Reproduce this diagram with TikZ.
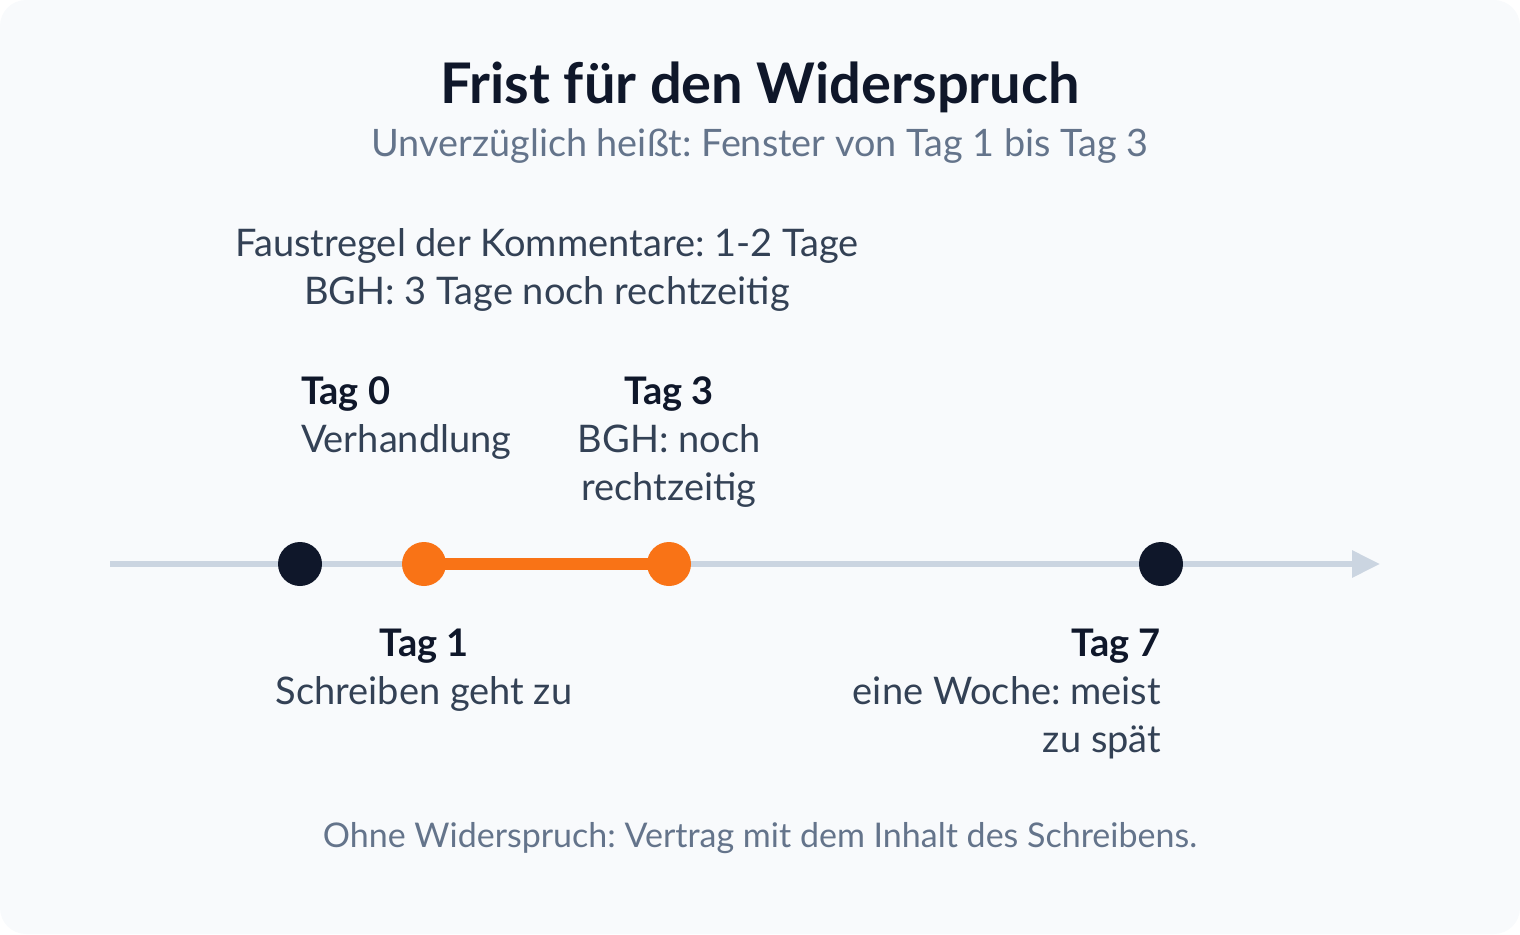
\documentclass[tikz,border=0pt]{standalone}
\usepackage{fontspec}
\setmainfont{Lato}
\usetikzlibrary{arrows.meta}
\frenchspacing
\definecolor{bgc}{HTML}{F8FAFC}
\definecolor{ink}{HTML}{0F172A}
\definecolor{body}{HTML}{334155}
\definecolor{muted}{HTML}{64748B}
\definecolor{axisc}{HTML}{CBD5E1}
\definecolor{accent}{HTML}{F97316}
\begin{document}
\begin{tikzpicture}[x=1pt,y=-1pt,
  txt/.style={inner sep=0pt, outer sep=0pt},
  titlef/.style={txt, text=ink, font=\fontsize{56}{66}\selectfont\bfseries},
  subf/.style={txt, text=muted, font=\fontsize{37.8}{48}\selectfont},
  bodyf/.style={txt, text=body, font=\fontsize{38}{48}\selectfont},
  notef/.style={txt, text=muted, font=\fontsize{34}{44}\selectfont},
  axisline/.style={draw=axisc, line width=6pt, -{Triangle[length=28pt,width=26pt]}},
  span/.style={draw=accent, line width=12pt, shorten <=-2pt, shorten >=-2pt},
  dotdark/.style={circle, fill=ink, minimum size=44pt, inner sep=0pt},
  dotacc/.style={circle, fill=accent, minimum size=44pt, inner sep=0pt}
]
\useasboundingbox (0,0) rectangle (1520,934);
\fill[bgc, rounded corners=26pt] (0,0) rectangle (1520,934);

\node[titlef, anchor=base] (title) at (760,103) {Frist für den Widerspruch};
\node[subf, anchor=base] (sub) at (760,156) {Unverzüglich heißt: Fenster von Tag 1 bis Tag 3};

\node[bodyf, anchor=base] (rule) at (547,256) {\begin{tabular}[t]{@{}c@{}}Faustregel der Kommentare: 1-2 Tage\\BGH: 3 Tage noch rechtzeitig\end{tabular}};

\coordinate (axS) at (110,564);
\coordinate (axE) at (1380,564);
\draw[axisline] (axS) -- (axE);

\node[dotdark] (t0) at (300,564) {};
\node[dotacc] (t1) at (424,564) {};
\node[dotacc] (t3) at (669,564) {};
\node[dotdark] (t7) at (1161,564) {};
\draw[span] (t1) -- (t3);

\node[bodyf, anchor=base west] (l0) at (301,404) {\begin{tabular}[t]{@{}l@{}}{\color{ink}\bfseries Tag 0}\\Verhandlung\end{tabular}};
\node[bodyf, anchor=base] (l3) at (669,404) {\begin{tabular}[t]{@{}c@{}}{\color{ink}\bfseries Tag 3}\\BGH: noch\\rechtzeitig\end{tabular}};
\node[bodyf, anchor=base] (l1) at (424,656) {\begin{tabular}[t]{@{}c@{}}{\color{ink}\bfseries Tag 1}\\Schreiben geht zu\end{tabular}};
\node[bodyf, anchor=base east] (l7) at (1161,656) {\begin{tabular}[t]{@{}r@{}}{\color{ink}\bfseries Tag 7}\\eine Woche: meist\\zu spät\end{tabular}};

\node[notef, anchor=base] (note) at (760,847) {Ohne Widerspruch: Vertrag mit dem Inhalt des Schreibens.};
\end{tikzpicture}
\end{document}
